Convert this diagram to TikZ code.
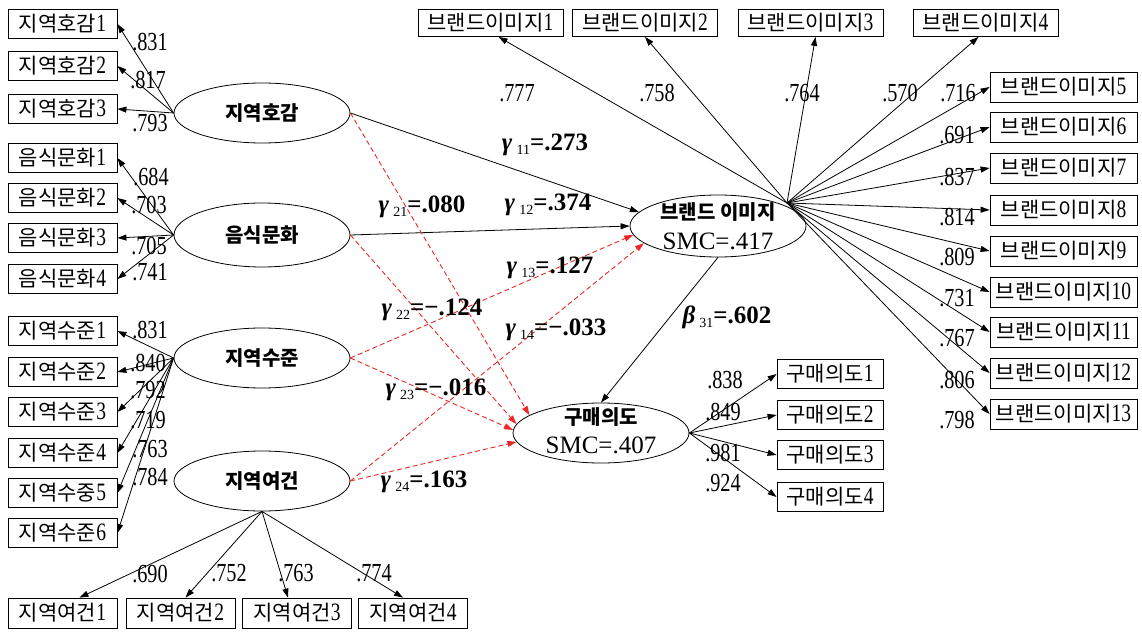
\documentclass[tikz,border=0pt]{standalone}
\usepackage{fontspec}
\setmainfont{Liberation Serif}
\newfontfamily\kr{Noto Sans CJK KR}
\newfontfamily\numf[FakeStretch=0.78]{Liberation Serif}
\usetikzlibrary{shapes.geometric,arrows.meta}
\definecolor{dred}{RGB}{235,40,40}
\newcommand\bxl[2]{{\kr #1}{\numf\fontsize{25}{25}\selectfont #2}}
\newcommand\gam[3]{{\bfseries\itshape #1}\,{\fontsize{14}{14}\selectfont\raisebox{-4pt}{#2}}{\bfseries #3}}
\tikzset{
  ind/.style={draw, line width=0.8pt, minimum height=29pt, inner sep=0pt, font=\kr\fontsize{21}{23}\selectfont},
  indA/.style={ind, minimum width=109pt},
  indB/.style={ind, minimum width=145pt, minimum height=27pt},
  indC/.style={ind, minimum width=147pt, minimum height=30pt},
  indD/.style={ind, minimum width=106pt},
  lat/.style={draw, ellipse, line width=0.8pt, minimum width=176pt, minimum height=60pt, inner sep=0pt, font=\kr\bfseries\fontsize{20}{24}\selectfont},
  ltxt/.style={inner sep=0pt, font=\kr\bfseries\fontsize{20}{24}\selectfont},
  smc/.style={inner sep=0pt, font=\fontsize{25}{26}\selectfont},
  ld/.style={inner sep=0pt, text height=17pt, text depth=0pt, font=\numf\fontsize{26}{26}\selectfont},
  gl/.style={inner sep=0pt, font=\fontsize{25}{25}\selectfont},
  arr/.style={line width=0.8pt, -{Triangle[length=9pt,width=6pt]}},
  darr/.style={arr, dred, line width=0.9pt, dash pattern=on 5pt off 3pt},
}
\begin{document}
\begin{tikzpicture}[x=1pt,y=-1pt]
\fill[white] (0,0) rectangle (1142,636);
\useasboundingbox (0,0) rectangle (1142,636);

% latent variables
\node[lat] (hg) at (262,113) {지역호감};
\node[lat, minimum height=64pt] (fc) at (262,235) {음식문화};
\node[lat] (ls) at (262,358) {지역수준};
\node[lat] (lc) at (262,481) {지역여건};
\node[lat, minimum height=62pt] (bi) at (718,226) {};
\node[ltxt] (bit) at (718,212) {브랜드 이미지};
\node[smc] (bis) at (718,241) {SMC=.417};
\node[lat] (pi) at (601,433) {};
\node[ltxt] (pit) at (601,417) {구매의도};
\node[smc] (pis) at (601,445) {SMC=.407};
\coordinate (bfan) at (787,203);

% left indicators
\node[indA] (h1) at (62.5,24) {\bxl{지역호감}{1}};
\node[indA] (h2) at (62.5,66) {\bxl{지역호감}{2}};
\node[indA] (h3) at (62.5,109) {\bxl{지역호감}{3}};
\node[indA] (f1) at (62.5,158) {\bxl{음식문화}{1}};
\node[indA] (f2) at (62.5,198) {\bxl{음식문화}{2}};
\node[indA] (f3) at (62.5,238) {\bxl{음식문화}{3}};
\node[indA] (f4) at (62.5,279) {\bxl{음식문화}{4}};
\node[indA] (s1) at (62.5,331) {\bxl{지역수준}{1}};
\node[indA] (s2) at (62.5,372) {\bxl{지역수준}{2}};
\node[indA] (s3) at (62.5,412) {\bxl{지역수준}{3}};
\node[indA] (s4) at (62.5,453) {\bxl{지역수준}{4}};
\node[indA] (s5) at (62.5,493) {\bxl{지역수중}{5}};
\node[indA] (s6) at (62.5,533) {\bxl{지역수준}{6}};
\node[indA, minimum height=30pt] (c1) at (62.5,613) {\bxl{지역여건}{1}};
\node[indA, minimum height=30pt] (c2) at (180.5,613) {\bxl{지역여건}{2}};
\node[indA, minimum height=30pt] (c3) at (297,613) {\bxl{지역여건}{3}};
\node[indA, minimum height=30pt] (c4) at (413,613) {\bxl{지역여건}{4}};

% brand image indicators
\node[indB] (b1) at (490.5,23) {\bxl{브랜드이미지}{1}};
\node[indB] (b2) at (645,23) {\bxl{브랜드이미지}{2}};
\node[indB] (b3) at (810.5,23) {\bxl{브랜드이미지}{3}};
\node[indB] (b4) at (985.5,23) {\bxl{브랜드이미지}{4}};
\node[indC] (b5) at (1063.5,87) {\bxl{브랜드이미지}{5}};
\node[indC] (b6) at (1063.5,127) {\bxl{브랜드이미지}{6}};
\node[indC] (b7) at (1063.5,168) {\bxl{브랜드이미지}{7}};
\node[indC] (b8) at (1063.5,210) {\bxl{브랜드이미지}{8}};
\node[indC] (b9) at (1063.5,251) {\bxl{브랜드이미지}{9}};
\node[indC] (b10) at (1063.5,292) {\bxl{브랜드이미지}{10}};
\node[indC] (b11) at (1063.5,332) {\bxl{브랜드이미지}{11}};
\node[indC] (b12) at (1063.5,373) {\bxl{브랜드이미지}{12}};
\node[indC] (b13) at (1063.5,414) {\bxl{브랜드이미지}{13}};

% purchase intention indicators
\node[indD] (p1) at (830,374) {\bxl{구매의도}{1}};
\node[indD] (p2) at (830,415) {\bxl{구매의도}{2}};
\node[indD] (p3) at (830,455) {\bxl{구매의도}{3}};
\node[indD] (p4) at (830,497) {\bxl{구매의도}{4}};

% measurement arrows
\foreach \b in {h1,h2,h3} \draw[arr] (hg.west) -- (\b.east);
\foreach \b in {f1,f2,f3,f4} \draw[arr] (fc.west) -- (\b.east);
\foreach \b in {s1,s2,s3,s4,s5,s6} \draw[arr] (ls.west) -- (\b.east);
\draw[arr] (lc.south) -- ([xshift=17pt]c1.north);
\draw[arr] (lc.south) -- ([xshift=5pt]c2.north);
\draw[arr] (lc.south) -- ([xshift=-9pt]c3.north);
\draw[arr] (lc.south) -- ([xshift=-10pt]c4.north);
\draw[arr] (bfan) -- ([xshift=8pt]b1.south);
\draw[arr] (bfan) -- (b2.south);
\draw[arr] (bfan) -- ([xshift=5pt]b3.south);
\draw[arr] (bfan) -- ([xshift=-7pt]b4.south);
\foreach \b in {b5,b6,b7,b8,b9,b10,b11,b12,b13} \draw[arr] (bfan) -- (\b.west);
\foreach \b in {p1,p2,p3,p4} \draw[arr] (pi.east) -- (\b.west);

% structural paths
\draw[arr] (hg.east) -- (bi.170);
\draw[arr] (fc.east) -- (bi.west);
\draw[darr] (ls.east) -- (bi.186);
\draw[darr] (lc.east) -- (bi.193);
\draw[darr] (hg.east) -- (pi.166);
\draw[darr] (fc.east) -- (pi.174);
\draw[darr] (ls.east) -- (pi.178);
\draw[darr] (lc.east) -- (pi.186);
\draw[arr] (bi.south) -- (pi.north);

% loadings
\node[ld] (l1) at (150,42) {.831};
\node[ld] (l2) at (148,80) {.817};
\node[ld] (l3) at (150,123) {.793};
\node[ld] (l4) at (151,177) {.684};
\node[ld] (l5) at (149,205) {.703};
\node[ld] (l6) at (149,246) {.705};
\node[ld] (l7) at (150,272) {.741};
\node[ld] (l8) at (150,330) {.831};
\node[ld] (l9) at (148,363) {.840};
\node[ld] (l10) at (148,390) {.792};
\node[ld] (l11) at (148,420) {.719};
\node[ld] (l12) at (150,449) {.763};
\node[ld] (l13) at (150,477) {.784};
\node[ld] (l14) at (150,574) {.690};
\node[ld] (l15) at (229,573) {.752};
\node[ld] (l16) at (296,573) {.763};
\node[ld] (l17) at (374,573) {.774};
\node[ld] (l18) at (517,93) {.777};
\node[ld] (l19) at (657,93) {.758};
\node[ld] (l20) at (802,93) {.764};
\node[ld] (l21) at (900,93) {.570};
\node[ld] (l22) at (958,93) {.716};
\node[ld] (l23) at (957,135) {.691};
\node[ld] (l24) at (957,177) {.837};
\node[ld] (l25) at (957,217) {.814};
\node[ld] (l26) at (957,257) {.809};
\node[ld] (l27) at (957,298) {.731};
\node[ld] (l28) at (957,338) {.767};
\node[ld] (l29) at (957,380) {.806};
\node[ld] (l30) at (957,420) {.798};
\node[ld] (l31) at (725,380) {.838};
\node[ld] (l32) at (723,412) {.849};
\node[ld] (l33) at (723,453) {.981};
\node[ld] (l34) at (723,483) {.924};

% path coefficients
\node[gl] (g11) at (545,145) {\gam{γ}{11}{=.273}};
\node[gl] (g21) at (422,207) {\gam{γ}{21}{=.080}};
\node[gl] (g12) at (548,205) {\gam{γ}{12}{=.374}};
\node[gl] (g13) at (550,268) {\gam{γ}{13}{=.127}};
\node[gl] (g22) at (432,310) {\gam{γ}{22}{=−.124}};
\node[gl] (g14) at (556,330) {\gam{γ}{14}{=−.033}};
\node[gl] (g23) at (436,390) {\gam{γ}{23}{=−.016}};
\node[gl] (g24) at (424,482) {\gam{γ}{24}{=.163}};
\node[gl] (b31) at (727,317) {\gam{β}{31}{=.602}};
\end{tikzpicture}
\end{document}
